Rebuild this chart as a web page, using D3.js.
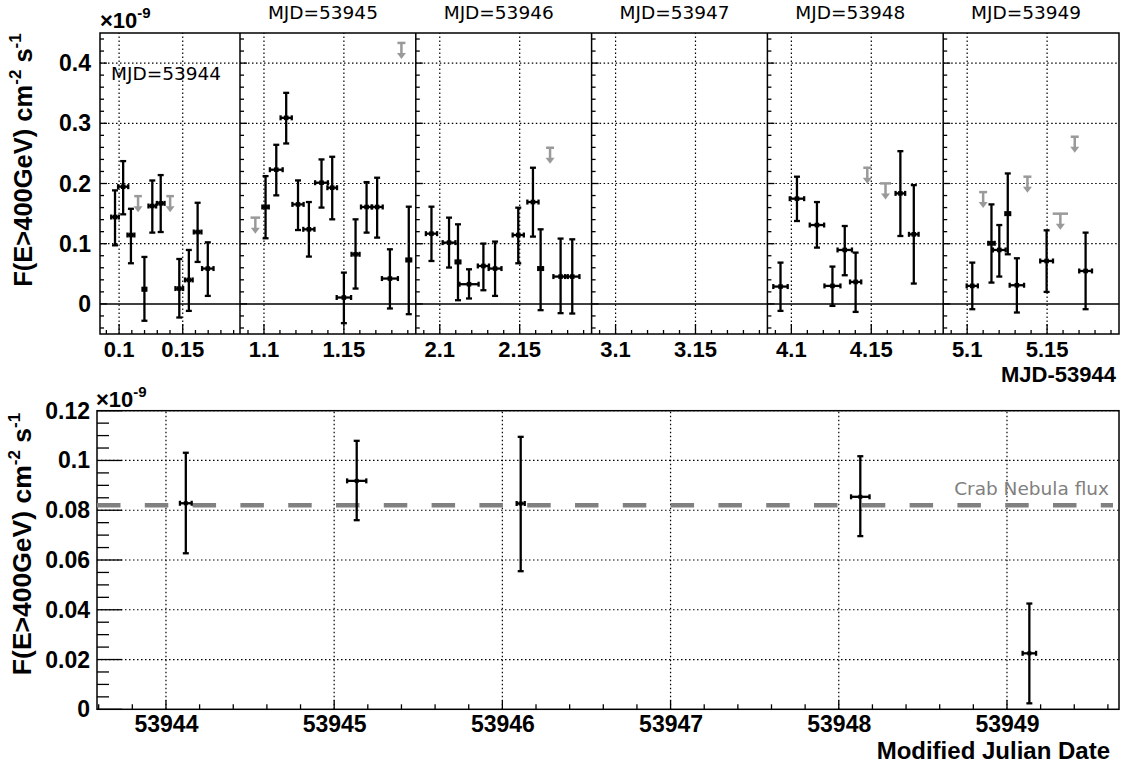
<!DOCTYPE html>
<html>
<head>
<meta charset="utf-8">
<script src="https://cdn.jsdelivr.net/npm/d3@7"></script>
<style>
  body { margin: 0; background: #fff; }
  svg { display: block; }
  .lab { font-family: "Liberation Sans", Arial, sans-serif; font-weight: bold; fill: #000; }
  .mjd { font-family: "DejaVu Sans", sans-serif; fill: #000; }
</style>
</head>
<body>
<div id="chart"></div>
<script>
// nights, MJD
var nights = [53944, 53945, 53946, 53947, 53948, 53949];

// runwise fluxes (x = MJD-53944, flux in 1e-9 cm-2 s-1)
var runT    = [0.0968, 0.1032, 0.1093, 0.1199, 0.1261, 0.1327, 0.1473, 0.1548, 0.1617, 0.1697,
               1.1010, 1.1077, 1.1139, 1.1213, 1.1281, 1.1360, 1.1427, 1.1500, 1.1573, 1.1642, 1.1708, 1.1788, 1.1906,
               2.0948, 2.1058, 2.1114, 2.1183, 2.1273, 2.1346, 2.1491, 2.1583, 2.1631, 2.1756, 2.1829,
               4.0932, 4.1035, 4.1160, 4.1257, 4.1334, 4.1402, 4.1682, 4.1766,
               5.1032, 5.1152, 5.1201, 5.1254, 5.1311, 5.1497, 5.1741];
var runFlux = [0.1443, 0.1947, 0.1144, 0.0244, 0.1626, 0.1670, 0.0255, 0.0398, 0.1194, 0.0587,
               0.1610, 0.2229, 0.3091, 0.1653, 0.1239, 0.2013, 0.1930, 0.0106, 0.0824, 0.1610, 0.1610, 0.0421, 0.0730,
               0.1167, 0.1018, 0.0697, 0.0327, 0.0630, 0.0587, 0.1144, 0.1692, 0.0587, 0.0454, 0.0454,
               0.0288, 0.1748, 0.1310, 0.0299, 0.0896, 0.0365, 0.1836, 0.1156,
               0.0299, 0.1007, 0.0896, 0.1499, 0.0310, 0.0713, 0.0547];
var runLo   = [0.0973, 0.1488, 0.0675, -0.0280, 0.1184, 0.1194, -0.0226, -0.0116, 0.0697, 0.0133,
               0.1090, 0.1803, 0.2665, 0.1227, 0.0786, 0.1600, 0.1405, -0.0320, 0.0255, 0.1184, 0.1101, -0.0076, -0.0171,
               0.0713, 0.0604, 0.0061, 0.0090, 0.0227, 0.0133, 0.0675, 0.1118, -0.0104, -0.0154, -0.0160,
               -0.0116, 0.1377, 0.0935, -0.0033, 0.0476, -0.0133, 0.1128, 0.0338,
               -0.0088, 0.0354, 0.0454, 0.0824, -0.0143, 0.0199, -0.0088];
var runHi   = [0.1886, 0.2372, 0.1580, 0.0780, 0.2050, 0.2140, 0.0746, 0.0896, 0.1680, 0.1023,
               0.2123, 0.2643, 0.3506, 0.2051, 0.1692, 0.2400, 0.2444, 0.0520, 0.1405, 0.2023, 0.2096, 0.0907, 0.1615,
               0.1615, 0.1433, 0.1322, 0.0575, 0.1002, 0.1035, 0.1598, 0.2262, 0.1239, 0.1085, 0.1073,
               0.0686, 0.2113, 0.1692, 0.0620, 0.1294, 0.0852, 0.2537, 0.1973,
               0.0686, 0.1653, 0.1310, 0.2167, 0.0758, 0.1222, 0.1184];
var runTErr = [0.0030, 0.0040, 0.0027, 0.0015, 0.0030, 0.0030, 0.0030, 0.0030, 0.0030, 0.0045,
               0.0020, 0.0040, 0.0035, 0.0035, 0.0035, 0.0040, 0.0030, 0.0045, 0.0025, 0.0035, 0.0035, 0.0050, 0.0015,
               0.0035, 0.0040, 0.0015, 0.0060, 0.0035, 0.0040, 0.0035, 0.0035, 0.0015, 0.0045, 0.0045,
               0.0045, 0.0045, 0.0045, 0.0050, 0.0045, 0.0035, 0.0030, 0.0030,
               0.0035, 0.0020, 0.0040, 0.0015, 0.0045, 0.0040, 0.0040];

// runwise upper limits
var ulT    = [0.1149, 0.1401, 1.0946, 1.1860, 2.1690, 4.1475, 4.1589, 5.1100, 5.1377, 5.1583, 5.1673];
var ulFlux = [0.1790, 0.1790, 0.1433, 0.4335, 0.2594, 0.2262, 0.2002, 0.1857, 0.2113, 0.1499, 0.2777];
var ulTErr = [0.0030, 0.0030, 0.0030, 0.0025, 0.0025, 0.0025, 0.0035, 0.0025, 0.0025, 0.0048, 0.0025];

// nightly fluxes
var dayMJD  = [53944.118, 53945.134, 53946.109, 53948.128, 53949.133];
var dayFlux = [0.0828, 0.0918, 0.0827, 0.0854, 0.0225];
var dayLo   = [0.0627, 0.0760, 0.0555, 0.0696, 0.0024];
var dayHi   = [0.1031, 0.1079, 0.1095, 0.1017, 0.0425];
var dayErrX = [0.035, 0.057, 0.024, 0.055, 0.040];

var crabFlux = 0.082;

var W = 1125, H = 764;
var svg = d3.select("#chart").append("svg").attr("width", W).attr("height", H);

var gridDash = "1.5,2.5";
var yTitle = 'F(E&gt;400GeV) cm<tspan dy="-11" font-size="17">-2</tspan><tspan dy="11"> s</tspan><tspan dy="-11" font-size="17">-1</tspan>';

// ---------- top panel ----------
var topY = d3.scaleLinear().domain([-0.05, 0.45]).range([334, 33]);
var panelEdges = [100, 240, 415.8, 591.6, 767.4, 943.2, 1119];

var xs = nights.map(function(n, k) {
  return d3.scaleLinear().domain([k + 0.085, k + 0.195]).range([panelEdges[k], panelEdges[k + 1]]);
});
function panelOf(t) { return Math.floor(t); }

var topG = svg.append("g");

xs.forEach(function(x, k) {
  var g = topG.append("g");
  var x0 = panelEdges[k], x1 = panelEdges[k + 1];
  // grid
  [0.1, 0.2, 0.3, 0.4].forEach(function(v) {
    g.append("line").attr("x1", x0).attr("x2", x1).attr("y1", topY(v)).attr("y2", topY(v))
      .attr("stroke", "#000").attr("stroke-width", 1.2).attr("stroke-dasharray", gridDash);
  });
  [k + 0.1, k + 0.15].forEach(function(v) {
    g.append("line").attr("x1", x(v)).attr("x2", x(v)).attr("y1", topY.range()[0]).attr("y2", topY.range()[1])
      .attr("stroke", "#000").attr("stroke-width", 1.2).attr("stroke-dasharray", gridDash);
  });
  // zero line
  g.append("line").attr("x1", x0).attr("x2", x1).attr("y1", topY(0)).attr("y2", topY(0))
    .attr("stroke", "#000").attr("stroke-width", 1.5);

  // bottom ticks
  d3.range(9, 20).forEach(function(j) {
    var v = k + j / 100;
    var major = j % 5 === 0;
    g.append("line").attr("x1", x(v)).attr("x2", x(v))
      .attr("y1", 334).attr("y2", 334 - (major ? 10 : 4))
      .attr("stroke", "#000").attr("stroke-width", 1.3);
  });
  // left ticks
  d3.range(-2, 23).forEach(function(j) {
    var v = j * 0.02;
    var major = j % 5 === 0;
    g.append("line").attr("x1", x0).attr("x2", x0 + (major ? 7 : 4))
      .attr("y1", topY(v)).attr("y2", topY(v))
      .attr("stroke", "#000").attr("stroke-width", 1.3);
  });
  // tick labels
  [k + 0.1, k + 0.15].forEach(function(v) {
    g.append("text").attr("class", "lab").attr("x", x(v)).attr("y", 357)
      .attr("text-anchor", "middle").attr("font-size", 22)
      .text(d3.format(".2~f")(v));
  });
  // night label
  if (k === 0) {
    g.append("text").attr("class", "mjd").attr("x", 111).attr("y", 80).attr("font-size", 18.5)
      .text("MJD=" + nights[k]);
  } else {
    g.append("text").attr("class", "mjd").attr("x", (x0 + x1) / 2 - 5).attr("y", 19)
      .attr("text-anchor", "middle").attr("font-size", 18.5)
      .text("MJD=" + nights[k]);
  }
});

// frame + dividers
topG.append("rect").attr("x", 100).attr("y", 33).attr("width", 1019).attr("height", 301)
  .attr("fill", "none").attr("stroke", "#000").attr("stroke-width", 1.5);
panelEdges.slice(1, -1).forEach(function(e) {
  topG.append("line").attr("x1", e).attr("x2", e).attr("y1", 33).attr("y2", 334)
    .attr("stroke", "#000").attr("stroke-width", 1.5);
});

// y tick labels
[0, 0.1, 0.2, 0.3, 0.4].forEach(function(v) {
  topG.append("text").attr("class", "lab").attr("x", 91).attr("y", topY(v) + 8)
    .attr("text-anchor", "end").attr("font-size", 23).text(v === 0 ? "0" : d3.format(".1f")(v));
});

// runwise points
var black = "#000";
runT.forEach(function(t, i) {
  var x = xs[panelOf(t)];
  var cx = x(t), cy = topY(runFlux[i]);
  var xl = x(t - runTErr[i]), xr = x(t + runTErr[i]);
  var g = topG.append("g").attr("stroke", black).attr("stroke-width", 2.3);
  g.append("line").attr("x1", cx).attr("x2", cx).attr("y1", topY(runLo[i])).attr("y2", topY(runHi[i]));
  g.append("line").attr("x1", cx - 3).attr("x2", cx + 3).attr("y1", topY(runLo[i])).attr("y2", topY(runLo[i]));
  g.append("line").attr("x1", cx - 3).attr("x2", cx + 3).attr("y1", topY(runHi[i])).attr("y2", topY(runHi[i]));
  g.append("line").attr("x1", xl).attr("x2", xr).attr("y1", cy).attr("y2", cy);
  g.append("line").attr("x1", xl).attr("x2", xl).attr("y1", cy - 2.5).attr("y2", cy + 2.5);
  g.append("line").attr("x1", xr).attr("x2", xr).attr("y1", cy - 2.5).attr("y2", cy + 2.5);
  topG.append("rect").attr("x", cx - 2.3).attr("y", cy - 2.3).attr("width", 4.6).attr("height", 4.6).attr("fill", black);
});

// upper limits
var gray = "#9a9a9a";
ulT.forEach(function(t, i) {
  var x = xs[panelOf(t)];
  var cx = x(t), cy = topY(ulFlux[i]);
  var xl = x(t - ulTErr[i]), xr = x(t + ulTErr[i]);
  var g = topG.append("g");
  g.append("line").attr("x1", xl).attr("x2", xr).attr("y1", cy).attr("y2", cy)
    .attr("stroke", gray).attr("stroke-width", 2.5);
  g.append("line").attr("x1", cx).attr("x2", cx).attr("y1", cy).attr("y2", cy + 11)
    .attr("stroke", gray).attr("stroke-width", 2.5);
  g.append("path").attr("d", "M" + (cx - 4.5) + "," + (cy + 10) + "L" + (cx + 4.5) + "," + (cy + 10) + "L" + cx + "," + (cy + 16) + "Z")
    .attr("fill", gray);
});

// axis titles
topG.append("text").attr("class", "lab").attr("font-size", 22)
  .attr("x", 100).attr("y", 28).html('×10<tspan dy="-10" font-size="15">-9</tspan>');
topG.append("text").attr("class", "lab").attr("font-size", 22)
  .attr("text-anchor", "end").attr("x", 1116).attr("y", 382).text("MJD-53944");
topG.append("text").attr("class", "lab").attr("font-size", 25.5)
  .attr("transform", "translate(32,160) rotate(-90)").attr("text-anchor", "middle")
  .html(yTitle);

// ---------- bottom panel ----------
var bx = d3.scaleLinear().domain([53943.59, 53949.666]).range([97, 1119]);
var by = d3.scaleLinear().domain([0, 0.12]).range([709.3, 410.7]);

var bot = svg.append("g");

// grid
by.ticks(6).forEach(function(v) {
  if (v === 0) return;
  bot.append("line").attr("x1", 97).attr("x2", 1119).attr("y1", by(v)).attr("y2", by(v))
    .attr("stroke", "#000").attr("stroke-width", 1.2).attr("stroke-dasharray", gridDash);
});
nights.forEach(function(n) {
  bot.append("line").attr("x1", bx(n)).attr("x2", bx(n)).attr("y1", 709.3).attr("y2", 410.7)
    .attr("stroke", "#000").attr("stroke-width", 1.2).attr("stroke-dasharray", gridDash);
});

// axes
var xAxis = d3.axisBottom(bx).tickValues(nights).tickFormat(d3.format("d")).tickSize(0).tickPadding(6);
var gx = bot.append("g").attr("transform", "translate(0,709.3)").call(xAxis);
gx.select(".domain").remove();
gx.attr("font-family", null).attr("font-size", null);
gx.selectAll("text").attr("class", "lab").attr("font-size", 23).attr("dy", "0.71em");

d3.range(0, 31).forEach(function(j) {
  var v = 53943.6 + j * 0.2;
  var major = j % 5 === 2;
  bot.append("line").attr("x1", bx(v)).attr("x2", bx(v)).attr("y1", 709.3).attr("y2", 709.3 - (major ? 9 : 5))
    .attr("stroke", "#000").attr("stroke-width", 1.3);
});
d3.range(0, 25).forEach(function(j) {
  var v = j * 0.005;
  var major = j % 4 === 0;
  bot.append("line").attr("x1", 97).attr("x2", 97 + (major ? 25 : 12)).attr("y1", by(v)).attr("y2", by(v))
    .attr("stroke", "#000").attr("stroke-width", 1.3);
});
by.ticks(6).forEach(function(v) {
  bot.append("text").attr("class", "lab").attr("x", 90).attr("y", by(v) + 8)
    .attr("text-anchor", "end").attr("font-size", 23).text(v === 0 ? "0" : d3.format(".2~f")(v));
});

bot.append("rect").attr("x", 97).attr("y", 410.7).attr("width", 1022).attr("height", 298.6)
  .attr("fill", "none").attr("stroke", "#000").attr("stroke-width", 1.5);

// crab line
bot.append("line").attr("x1", 97).attr("x2", 1113).attr("y1", by(crabFlux)).attr("y2", by(crabFlux))
  .attr("stroke", "#808080").attr("stroke-width", 4.5).attr("stroke-dasharray", "23.5,24.3");
bot.append("text").attr("class", "mjd").style("fill", "#808080")
  .attr("x", 1109).attr("y", 495).attr("text-anchor", "end").attr("font-size", 18.5).text("Crab Nebula flux");

// nightly points
dayMJD.forEach(function(m, i) {
  var cx = bx(m), cy = by(dayFlux[i]);
  var xl = bx(m - dayErrX[i]), xr = bx(m + dayErrX[i]);
  var g = bot.append("g").attr("stroke", black).attr("stroke-width", 2.3);
  g.append("line").attr("x1", cx).attr("x2", cx).attr("y1", by(dayLo[i])).attr("y2", by(dayHi[i]));
  g.append("line").attr("x1", cx - 3).attr("x2", cx + 3).attr("y1", by(dayLo[i])).attr("y2", by(dayLo[i]));
  g.append("line").attr("x1", cx - 3).attr("x2", cx + 3).attr("y1", by(dayHi[i])).attr("y2", by(dayHi[i]));
  g.append("line").attr("x1", xl).attr("x2", xr).attr("y1", cy).attr("y2", cy);
  g.append("line").attr("x1", xl).attr("x2", xl).attr("y1", cy - 2.5).attr("y2", cy + 2.5);
  g.append("line").attr("x1", xr).attr("x2", xr).attr("y1", cy - 2.5).attr("y2", cy + 2.5);
  bot.append("rect").attr("x", cx - 2).attr("y", cy - 2).attr("width", 4).attr("height", 4).attr("fill", black);
});

// titles
bot.append("text").attr("class", "lab").attr("font-size", 22)
  .attr("x", 96).attr("y", 407).html('×10<tspan dy="-10" font-size="15">-9</tspan>');
bot.append("text").attr("class", "lab").attr("font-size", 24)
  .attr("text-anchor", "end").attr("x", 1110).attr("y", 759).text("Modified Julian Date");
bot.append("text").attr("class", "lab").attr("font-size", 26.5)
  .attr("transform", "translate(31,544) rotate(-90)").attr("text-anchor", "middle")
  .html(yTitle);
</script>
</body>
</html>
